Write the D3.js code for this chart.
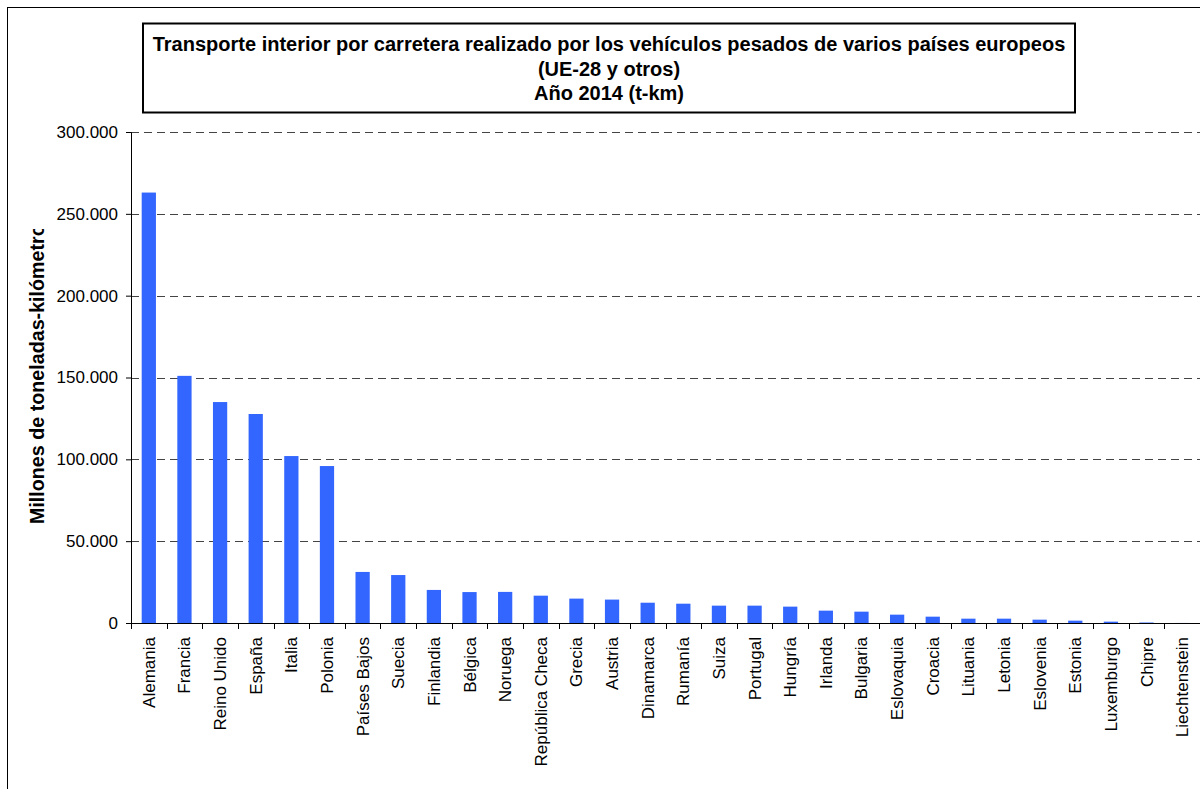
<!DOCTYPE html>
<html>
<head>
<meta charset="utf-8">
<script src="https://cdn.jsdelivr.net/npm/d3@7"></script>
<style>
  body { margin: 0; background: #fff; }
  svg { display: block; font-family: "Liberation Sans", Arial, Helvetica, sans-serif; }
</style>
</head>
<body>
<svg width="1200" height="789"></svg>
<script>
const countries = ["Alemania", "Francia", "Reino Unido", "España", "Italia", "Polonia", "Países Bajos",
    "Suecia", "Finlandia", "Bélgica", "Noruega", "República Checa", "Grecia", "Austria", "Dinamarca",
    "Rumanía", "Suiza", "Portugal", "Hungría", "Irlanda", "Bulgaria", "Eslovaquia", "Croacia",
    "Lituania", "Letonia", "Eslovenia", "Estonia", "Luxemburgo", "Chipre", "Liechtenstein"];
const tkm = [263000, 151000, 135000, 127700, 102000, 95900, 31200,
    29300, 20200, 18900, 19000, 16700, 14900, 14300, 12400,
    11800, 10600, 10600, 10000, 7550, 6930, 5100, 3870,
    2650, 2650, 2040, 1430, 820, 300, 30];
const yTicks = [0, 50000, 100000, 150000, 200000, 250000, 300000];
const titleLines = ["Transporte interior por carretera realizado por los vehículos pesados de varios países europeos",
    "(UE-28 y otros)", "Año 2014 (t-km)"];
const yLabel = "Millones de toneladas-kilómetro";

const svg = d3.select("svg");
const margin = { left: 131, top: 132, right: 0, bottom: 166 };
const width = 1200 - margin.left - margin.right;
const height = 789 - margin.top - margin.bottom;

// outer chart border (runs off the right/bottom edge)
svg.append("rect")
    .attr("x", 7.5).attr("y", 7.5)
    .attr("width", 1250).attr("height", 850)
    .attr("fill", "none").attr("stroke", "#000").attr("stroke-width", 1);

// title box
svg.append("rect")
    .attr("x", 143).attr("y", 23.5)
    .attr("width", 932).attr("height", 89)
    .attr("fill", "#fff").attr("stroke", "#000").attr("stroke-width", 2);

svg.append("g").selectAll("text")
    .data(titleLines)
    .join("text")
    .attr("x", 609)
    .attr("y", (d, i) => 51 + i * 24.5)
    .attr("text-anchor", "middle")
    .attr("font-size", "20px")
    .attr("font-weight", "bold")
    .text(d => d);

const g = svg.append("g").attr("transform", `translate(${margin.left},${margin.top})`);

const x = d3.scaleBand()
    .domain(countries)
    .range([0, width])
    .paddingInner(0.6)
    .paddingOuter(0.3);

const y = d3.scaleLinear()
    .domain([0, 300000])
    .range([height, 0]);

const fmt = v => d3.format(",")(v).replace(/,/g, ".");

// gridlines
g.append("g").selectAll("line")
    .data(yTicks.filter(d => d > 0))
    .join("line")
    .attr("x1", 0).attr("x2", width)
    .attr("y1", d => Math.round(y(d)) + 0.5)
    .attr("y2", d => Math.round(y(d)) + 0.5)
    .attr("stroke", "#444")
    .attr("stroke-width", 1)
    .attr("stroke-dasharray", "8,5");

// bars
g.append("g").selectAll("rect")
    .data(countries)
    .join("rect")
    .attr("x", d => x(d))
    .attr("width", x.bandwidth())
    .attr("y", (d, i) => y(tkm[i]))
    .attr("height", (d, i) => height - y(tkm[i]))
    .attr("fill", "#3366ff");

// y axis
const yAxis = g.append("g")
    .call(d3.axisLeft(y).tickValues(yTicks).tickFormat(fmt).tickSize(5).tickPadding(8));
yAxis.selectAll("text").attr("font-size", "17px").attr("fill", "#000").attr("font-family", null);
yAxis.selectAll("line, path").attr("stroke", "#000");

// x axis: ticks on band boundaries
const step = x.step();
const xAxisG = g.append("g").attr("transform", `translate(0,${height})`);
xAxisG.append("line")
    .attr("x1", 0).attr("x2", width)
    .attr("y1", 0.5).attr("y2", 0.5)
    .attr("stroke", "#000");
xAxisG.append("g").selectAll("line")
    .data(d3.range(countries.length + 1))
    .join("line")
    .attr("x1", i => Math.round(i * step) + 0.5)
    .attr("x2", i => Math.round(i * step) + 0.5)
    .attr("y1", 0).attr("y2", 6)
    .attr("stroke", "#000");
xAxisG.append("g").selectAll("text")
    .data(countries)
    .join("text")
    .attr("transform", d => `translate(${x(d) + x.bandwidth() / 2 + 6},14) rotate(-90)`)
    .attr("text-anchor", "end")
    .attr("font-size", "17px")
    .text(d => d);

// y axis label, clipped at the top like the original
svg.append("clipPath").attr("id", "ylab-clip")
    .append("rect").attr("x", 0).attr("y", 229).attr("width", 100).attr("height", 400);
svg.append("g")
    .attr("clip-path", "url(#ylab-clip)")
    .append("text")
    .attr("transform", "translate(44,524) rotate(-90)")
    .attr("text-anchor", "start")
    .attr("font-size", "19.7px")
    .attr("font-weight", "bold")
    .text(yLabel);
</script>
</body>
</html>
